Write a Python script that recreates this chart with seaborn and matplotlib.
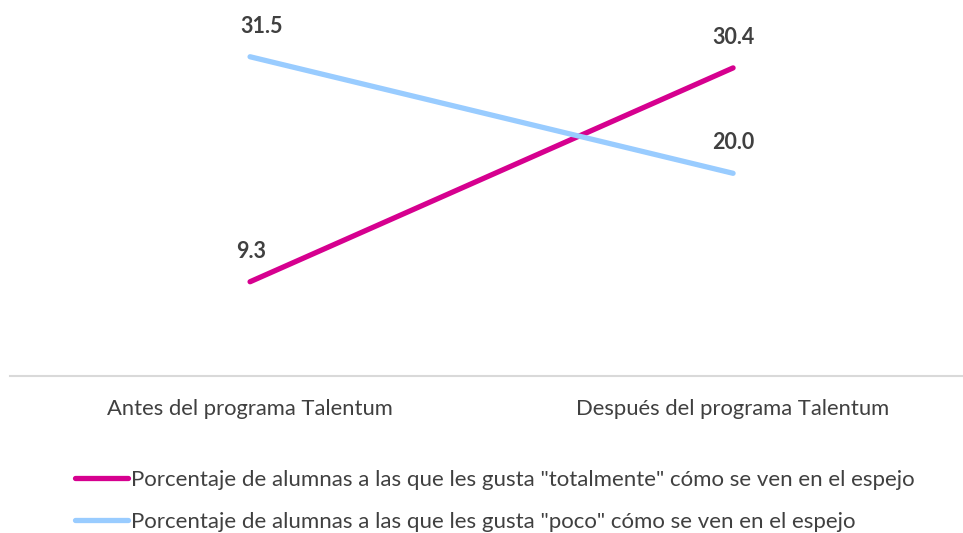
import pandas as pd
import seaborn as sns
import matplotlib.pyplot as plt
from matplotlib.lines import Line2D

categories = ["Antes del programa Talentum", "Después del programa Talentum"]
series_names = [
    'Porcentaje de alumnas a las que les gusta "totalmente" cómo se ven en el espejo',
    'Porcentaje de alumnas a las que les gusta "poco" cómo se ven en el espejo',
]
totalmente = [9.3, 30.4]
poco = [31.5, 20.0]
colors = ["#D6008F", "#99CCFF"]

df = pd.DataFrame({
    "momento": categories * 2,
    "valor": totalmente + poco,
    "serie": [series_names[0]] * 2 + [series_names[1]] * 2,
})

sns.set_theme(style="white")
plt.rcParams["font.family"] = ["Lato", "DejaVu Sans"]
text_color = "#404040"

fig = plt.figure(figsize=(9.63, 5.33), dpi=100)
ax = fig.add_axes([10 / 963, (533 - 376) / 533, 953 / 963, 376 / 533])

sns.lineplot(data=df, x="momento", y="valor", hue="serie", palette=colors,
             linewidth=3.8, ax=ax, legend=False, sort=False)
for line in ax.lines:
    line.set_solid_capstyle("round")

ax.set_xlim(-0.497, 1.476)
ax.set_ylim(0, 37.1)

# etiquetas de datos
offsets = {(0, 31.5): (8, 22), (0, 9.3): (1, 22)}
for vals in (totalmente, poco):
    for i, v in enumerate(vals):
        dx, dy = offsets.get((i, v), (0, 22))
        ax.annotate(f"{v:.1f}", (i, v), xytext=(dx, dy), textcoords="offset points",
                    ha="center", va="center", fontsize=15.5, fontweight="bold",
                    color=text_color)

for s in ["top", "right", "left"]:
    ax.spines[s].set_visible(False)
ax.spines["bottom"].set_color("#D9D9D9")
ax.spines["bottom"].set_linewidth(1.5)
ax.set_yticks([])
ax.set_xlabel("")
ax.set_ylabel("")
ax.tick_params(axis="x", length=0, pad=16.5, labelsize=15.8, labelcolor=text_color)

handles = [Line2D([0], [0], color=c, lw=3.8, solid_capstyle="round") for c in colors]
fig.legend(handles, series_names, loc="upper left", bbox_to_anchor=(75 / 963, 1 - 470 / 533),
           frameon=False, fontsize=16, handlelength=2.4, handletextpad=0.14,
           labelspacing=1.0, labelcolor=text_color, borderaxespad=0, borderpad=0)

plt.savefig("out.png", dpi=100)
